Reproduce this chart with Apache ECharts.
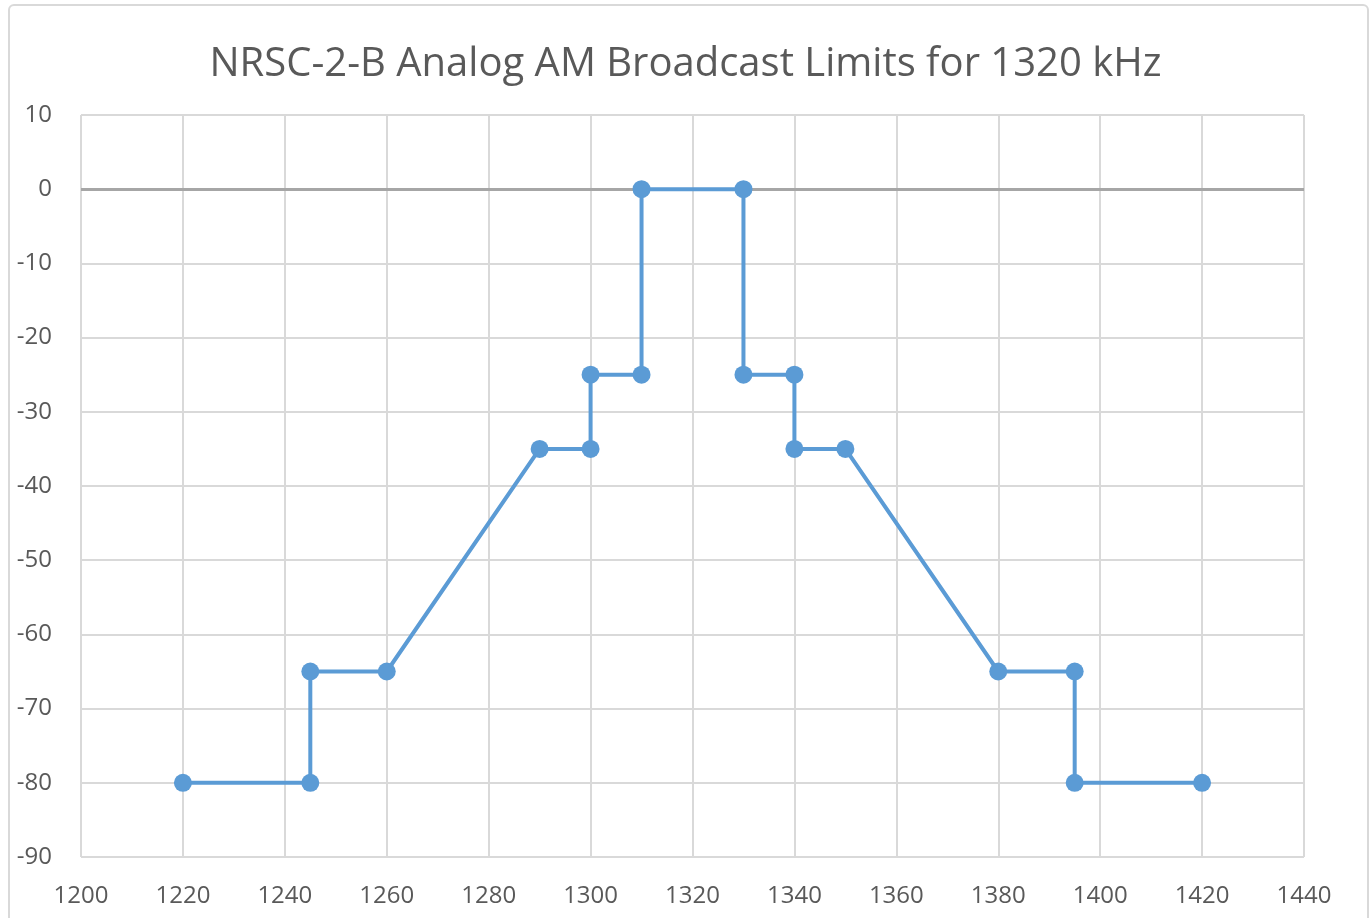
<!DOCTYPE html>
<html>
<head>
<meta charset="utf-8">
<script src="https://cdn.jsdelivr.net/npm/echarts@6/dist/echarts.min.js"></script>
<style>
  html, body { margin: 0; padding: 0; background: #fff; }
  #chart { width: 1371px; height: 918px; }
  .frame { position: absolute; left: 8px; top: 4px; width: 1357px; height: 920px; border: 2px solid #d9d9d9; border-radius: 6px; pointer-events: none; }
</style>
</head>
<body>
<div id="chart"></div>
<div class="frame"></div>
<script>
// frequency (kHz) and limit (dB) of the mask
const freqs = [1220, 1245, 1245, 1260, 1290, 1300, 1300, 1310, 1310, 1330, 1330, 1340, 1340, 1350, 1380, 1395, 1395, 1420];
const limits = [-80, -80, -65, -65, -35, -35, -25, -25, 0, 0, -25, -25, -35, -35, -65, -65, -80, -80];

const chart = echarts.init(document.getElementById("chart"));
const font = "Open Sans, Lato, sans-serif";

const option = {
  animation: false,
  title: {
    text: "NRSC-2-B Analog AM Broadcast Limits for 1320 kHz",
    left: "center",
    top: 40,
    textStyle: { color: "#595959", fontSize: 40, fontWeight: "normal", fontFamily: font }
  },
  grid: { left: 81, right: 67, top: 115, bottom: 61 },
  xAxis: {
    type: "value",
    min: 1200,
    max: 1440,
    interval: 20,
    axisLine: { show: false },
    axisTick: { show: false },
    axisLabel: { color: "#595959", fontSize: 24, fontFamily: font, margin: 27, formatter: v => String(v) },
    splitLine: { lineStyle: { color: "#d9d9d9", width: 2 } }
  },
  yAxis: {
    type: "value",
    min: -90,
    max: 10,
    interval: 10,
    axisLine: { show: false },
    axisTick: { show: false },
    axisLabel: { color: "#595959", fontSize: 24, fontFamily: font, margin: 29 },
    splitLine: { lineStyle: { color: "#d9d9d9", width: 2 } }
  },
  series: [
    {
      type: "line",
      data: freqs.map((f, i) => [f, limits[i]]),
      symbol: "circle",
      symbolSize: 18,
      itemStyle: { color: "#5b9bd5" },
      lineStyle: { color: "#5b9bd5", width: 4 },
      markLine: {
        silent: true,
        symbol: "none",
        label: { show: false },
        lineStyle: { color: "#a6a6a6", width: 3, type: "solid" },
        data: [{ yAxis: 0 }],
        z: 1
      }
    }
  ]
};

chart.setOption(option);
</script>
</body>
</html>
